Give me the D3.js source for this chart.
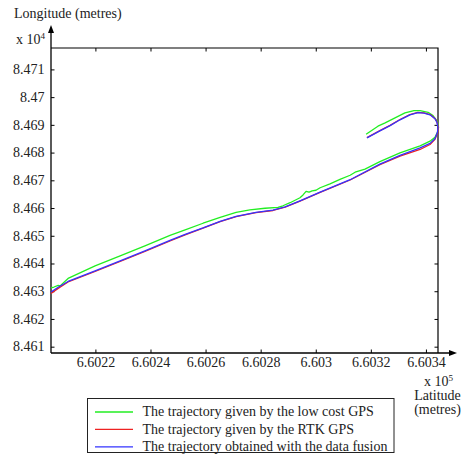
<!DOCTYPE html>
<html><head><meta charset="utf-8">
<script src="https://cdn.jsdelivr.net/npm/d3@7"></script>
<style>
body{margin:0;background:#fff;}
</style></head>
<body><svg id="c" width="461" height="454" font-family="'Liberation Serif', 'DejaVu Serif', 'Noto Serif', serif"></svg>
<script>
// Data in metres
const xTicks = [660220, 660240, 660260, 660280, 660300, 660320, 660340];
const xTickLabels = ["6.6022","6.6024","6.6026","6.6028","6.603","6.6032","6.6034"];
const yTicks = [84610,84620,84630,84640,84650,84660,84670,84680,84690,84700,84710];
const yTickLabels = ["8.461","8.462","8.463","8.464","8.465","8.466","8.467","8.468","8.469","8.47","8.471"];

const lowCostLat = [660203.7,660204.8,660206.3,660207.0,660209.9,660219.7,660228.8,660237.8,660246.9,660252.4,660258.9,660265.1,660270.9,660275.9,660281.4,660286.1,660287.9,660290.5,660294.1,660295.2,660296.3,660297.4,660298.5,660299.9,660301.4,660305.0,660308.6,660312.3,660314.1,660317.7,660323.1,660330.4,660337.7,660341.3,660343.1,660344.0,660344.4,660344.0,660342.4,660340.6,660337.7,660335.5,660332.2,660328.6,660325.0,660322.4,660318.1];
const lowCostLon = [84631.4,84631.7,84632.3,84632.1,84634.8,84639.3,84642.9,84646.5,84650.3,84652.3,84654.7,84656.8,84658.6,84659.5,84660.1,84660.4,84661.0,84662.1,84663.9,84664.9,84666.2,84665.9,84666.4,84666.6,84667.5,84668.9,84670.5,84672.0,84673.1,84674.2,84676.9,84680.1,84682.6,84684.3,84685.7,84687.5,84689.3,84691.3,84693.5,84694.7,84695.3,84695.3,84694.5,84692.7,84690.9,84689.7,84686.8];

const rtkLat = [660203.7,660206.3,660209.9,660219.7,660228.8,660237.8,660246.9,660252.4,660258.9,660265.1,660270.9,660278.1,660284.3,660288.7,660294.1,660301.4,660312.3,660323.1,660330.4,660337.7,660341.3,660343.1,660344.1,660344.3,660343.9,660343.2,660341.4,660339.1,660336.9,660334.0,660330.4,660326.8,660323.1,660318.4];
const rtkLon = [84629.4,84631.2,84633.5,84637.3,84640.9,84644.5,84648.3,84650.5,84652.9,84655.3,84657.1,84658.5,84659.3,84660.5,84662.7,84665.8,84670.3,84675.8,84678.9,84681.3,84683.1,84685.0,84687.4,84689.3,84691.1,84692.4,84693.9,84694.5,84694.7,84693.9,84692.1,84690.0,84688.1,84685.6];

const fusionLat = [660203.7,660206.3,660209.9,660219.7,660228.8,660237.8,660246.9,660252.4,660258.9,660265.1,660270.9,660278.1,660284.3,660288.7,660294.1,660301.4,660312.3,660323.1,660330.4,660337.7,660341.3,660343.1,660344.0,660344.2,660343.8,660343.1,660341.3,660339.1,660336.9,660334.0,660330.4,660326.8,660323.1,660318.4];
const fusionLon = [84629.9,84631.6,84633.7,84637.5,84641.1,84644.7,84648.5,84650.7,84653.0,84655.4,84657.2,84658.6,84659.4,84660.6,84662.8,84665.9,84670.4,84676.0,84679.2,84681.9,84683.5,84685.2,84687.5,84689.3,84691.1,84692.4,84693.8,84694.4,84694.6,84693.8,84692.0,84689.9,84688.0,84685.5];

const seriesNames = ["The trajectory given by the low cost GPS","The trajectory given by the RTK GPS","The trajectory obtained with the data fusion"];
const seriesColors = ["#22ee22","#ee2222","#3333ff"];

const svg = d3.select("#c");
const L=51, R=438, T=48, B=353;
const x = d3.scaleLinear().domain([660203.7, 660344.2]).range([L, R]);
const y = d3.scaleLinear().domain([84607.9, 84717.9]).range([B, T]);

// determine font size so the longest legend entry is ~245px wide
const probe = svg.append("text").attr("font-size",12).text(seriesNames[2]);
const w12 = probe.node().getComputedTextLength();
probe.remove();
const FS = Math.max(9, Math.min(14, 12*245/w12));

// frame top/right
svg.append("path").attr("d",`M${L},${T}H${R}V${B}`).attr("fill","none").attr("stroke","#000").attr("stroke-width",1.2);
const tk=3.5;
xTicks.forEach(v=>{
  const px=x(v);
  svg.append("line").attr("x1",px).attr("x2",px).attr("y1",B).attr("y2",B-tk).attr("stroke","#000");
  svg.append("line").attr("x1",px).attr("x2",px).attr("y1",T).attr("y2",T+tk).attr("stroke","#000");
});
yTicks.forEach(v=>{
  const py=y(v);
  svg.append("line").attr("x1",L).attr("x2",L+tk).attr("y1",py).attr("y2",py).attr("stroke","#000");
  svg.append("line").attr("x1",R).attr("x2",R-tk).attr("y1",py).attr("y2",py).attr("stroke","#000");
});
svg.append("line").attr("x1",L).attr("x2",L).attr("y1",B).attr("y2",30).attr("stroke","#000").attr("stroke-width",1.3);
svg.append("path").attr("d",`M${L},25L${L-3},33L${L+3},33Z`).attr("fill","#000");
svg.append("line").attr("x1",L).attr("x2",452).attr("y1",B).attr("y2",B).attr("stroke","#000").attr("stroke-width",1.3);
svg.append("path").attr("d",`M457,${B}L449,${B-3}L449,${B+3}Z`).attr("fill","#000");

xTicks.forEach((v,i)=>{
  svg.append("text").attr("x",x(v)).attr("y",367).attr("text-anchor","middle").attr("font-size",FS).attr("fill","#222").text(xTickLabels[i]);
});
yTicks.forEach((v,i)=>{
  svg.append("text").attr("x",44.5).attr("y",y(v)+4.3).attr("text-anchor","end").attr("font-size",FS).attr("fill","#222").text(yTickLabels[i]);
});

svg.append("text").attr("x",14).attr("y",18).attr("font-size",FS).attr("fill","#222").text("Longitude (metres)");
const e4=svg.append("text").attr("x",16).attr("y",44).attr("font-size",FS).attr("fill","#222");
e4.append("tspan").text("x 10");
e4.append("tspan").attr("dy",-5).attr("font-size",FS*0.65).text("4");
const e5=svg.append("text").attr("x",424).attr("y",386).attr("font-size",FS).attr("fill","#222");
e5.append("tspan").text("x 10");
e5.append("tspan").attr("dy",-5).attr("font-size",FS*0.65).text("5");
svg.append("text").attr("x",437.5).attr("y",400).attr("text-anchor","middle").attr("font-size",FS).attr("fill","#222").text("Latitude");
svg.append("text").attr("x",437.5).attr("y",414).attr("text-anchor","middle").attr("font-size",FS).attr("fill","#222").text("(metres)");

const line = d3.line().x(d=>x(d[0])).y(d=>y(d[1]));
const series = [d3.zip(lowCostLat,lowCostLon), d3.zip(rtkLat,rtkLon), d3.zip(fusionLat,fusionLon)];
series.forEach((s,i)=>{
  svg.append("path").datum(s).attr("d",line).attr("fill","none").attr("stroke",seriesColors[i]).attr("stroke-width",1.3).attr("stroke-linejoin","round");
});

svg.append("rect").attr("x",87.5).attr("y",398.5).attr("width",306.5).attr("height",54).attr("fill","#fff").attr("stroke","#222").attr("stroke-width",1);
seriesNames.forEach((n,i)=>{
  const cy=412+i*17.4;
  svg.append("line").attr("x1",95).attr("x2",133).attr("y1",cy).attr("y2",cy).attr("stroke",seriesColors[i]).attr("stroke-width",1.3);
  svg.append("text").attr("x",142.5).attr("y",cy+4.3).attr("font-size",FS).attr("fill","#222").text(n);
});
</script></body></html>
